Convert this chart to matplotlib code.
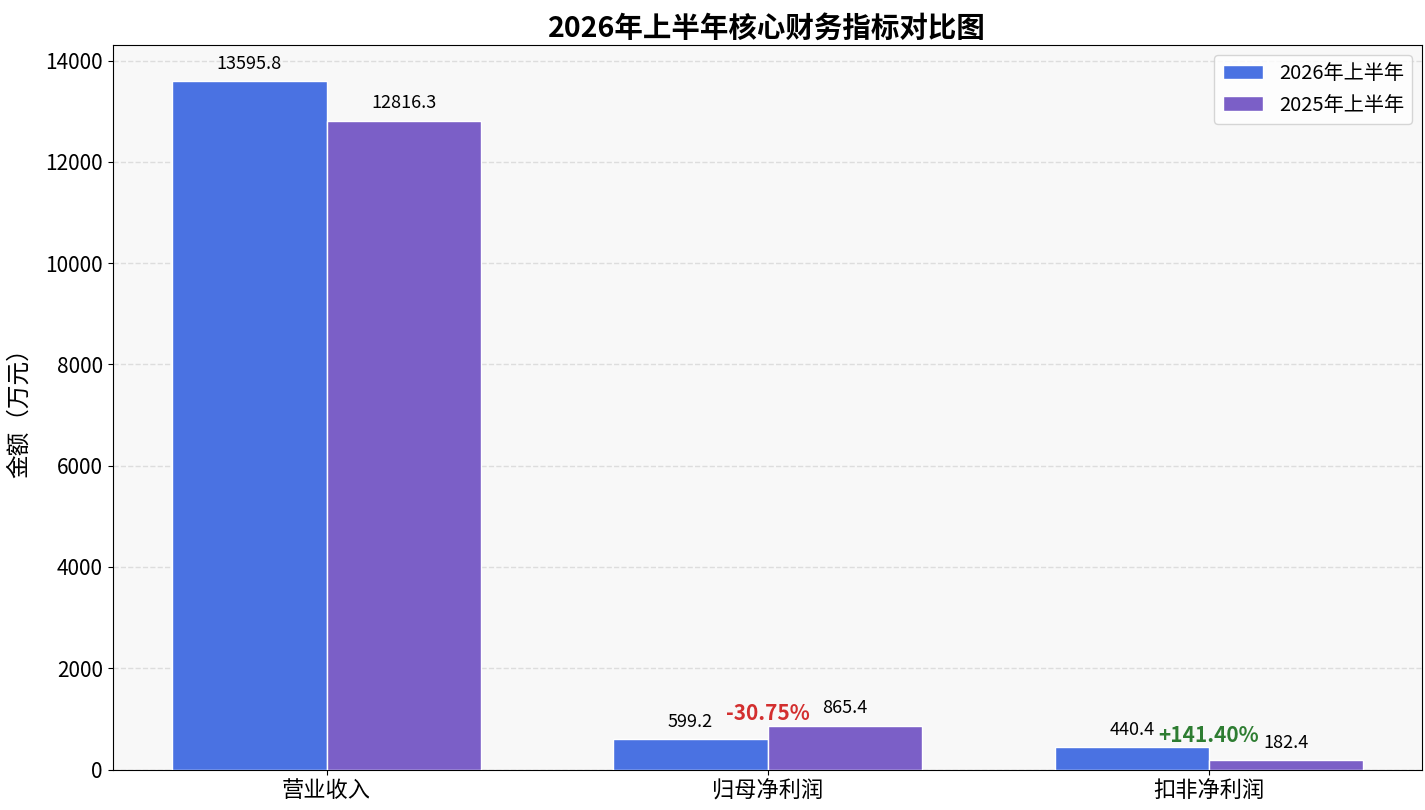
import matplotlib
matplotlib.use("Agg")
import matplotlib.pyplot as plt
import numpy as np

plt.rcParams['font.family'] = ['Noto Sans CJK SC', 'DejaVu Sans']
plt.rcParams['axes.unicode_minus'] = False

categories = ['营业收入', '归母净利润', '扣非净利润']
series_2026 = [13595.8, 599.2, 440.4]
series_2025 = [12816.3, 865.4, 182.4]
changes = [None, '-30.75%', '+141.40%']
change_colors = [None, '#d32f2f', '#2e7d32']
labels = ['2026年上半年', '2025年上半年']

fig, ax = plt.subplots(figsize=(14.25, 8.1), dpi=100)
fig.subplots_adjust(left=0.079, right=0.998, top=0.944, bottom=0.05)
ax.set_facecolor('#f8f8f8')

x = np.arange(len(categories))
w = 0.35
b1 = ax.bar(x - w/2, series_2026, w, color='#4a72e2', edgecolor='white', linewidth=1, label=labels[0], zorder=3)
b2 = ax.bar(x + w/2, series_2025, w, color='#7b5fc7', edgecolor='white', linewidth=1, label=labels[1], zorder=3)

for bars in (b1, b2):
    for r in bars:
        h = r.get_height()
        ax.annotate(f'{h:.1f}', (r.get_x() + r.get_width()/2, h), xytext=(0, 6),
                    textcoords='offset points', ha='center', va='bottom', fontsize=13)

for i, c in enumerate(changes):
    if c is None:
        continue
    top = max(series_2026[i], series_2025[i])
    ax.annotate(c, (x[i], top), xytext=(0, 1), textcoords='offset points',
                ha='center', va='bottom', fontsize=15, fontweight='bold', color=change_colors[i])

ax.set_xticks(x)
ax.set_xticklabels(categories, fontsize=16)
ax.tick_params(axis='y', labelsize=15)
ax.set_xlim(-0.485, 2.483)
ax.set_ylim(0, max(series_2026 + series_2025) * 1.052)
ax.set_ylabel('金额（万元）', fontsize=17, labelpad=10)
ax.set_title('2026年上半年核心财务指标对比图', fontsize=20.5, fontweight='bold')
ax.grid(axis='y', linestyle='--', color='#dddddd', linewidth=1, zorder=0)
ax.legend(fontsize=14.5, loc='upper right')

fig.savefig('out.png', dpi=100)
